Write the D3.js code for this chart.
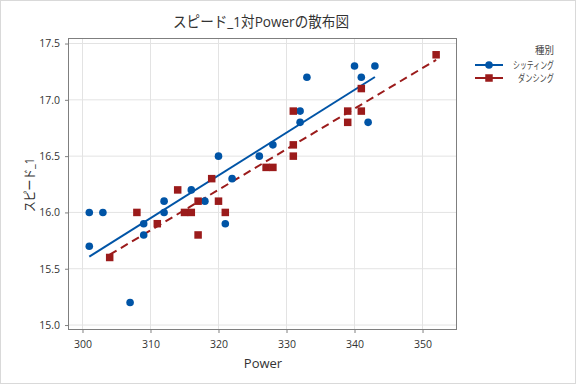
<!DOCTYPE html>
<html><head><meta charset="utf-8">
<script src="https://cdn.jsdelivr.net/npm/d3@7"></script>
<style>
html,body{margin:0;padding:0;background:#fff;}
svg{display:block;}
text{font-family:"Open Sans","Noto Sans CJK JP",sans-serif;}
</style></head>
<body>
<script>
const title = "スピード_1対Powerの散布図";
const xLabel = "Power";
const yLabel = "スピード_1";
const legendTitle = "種別";
const seriesNames = ["シッティング", "ダンシング"];
const xTicks = [300, 310, 320, 330, 340, 350];
const yTicks = [15.0, 15.5, 16.0, 16.5, 17.0, 17.5];

const sitX = [301,301,303,307,309,309,312,312,316,318,320,321,322,326,328,332,332,333,340,341,342,343];
const sitY = [16.0,15.7,16.0,15.2,15.9,15.8,16.1,16.0,16.2,16.1,16.5,15.9,16.3,16.5,16.6,16.9,16.8,17.2,17.3,17.2,16.8,17.3];
const danX = [304,308,311,314,315,316,317,317,319,320,321,327,328,331,331,331,339,339,341,341,352];
const danY = [15.6,16.0,15.9,16.2,16.0,16.0,16.1,15.8,16.3,16.1,16.0,16.4,16.4,16.9,16.6,16.5,16.9,16.8,17.1,16.9,17.4];

const W = 576, H = 384;
const m = {left:68, top:38, right:457, bottom:330};
const blue = "#0054A6", red = "#9B1B1B";

const svg = d3.select("body").append("svg").attr("width", W).attr("height", H);
svg.append("rect").attr("x",0.5).attr("y",0.5).attr("width",W-1).attr("height",H-1)
  .attr("fill","#fff").attr("stroke","#d9d9d9");

const x = d3.scaleLinear().domain([297.87, 355.07]).range([m.left, m.right]);
const y = d3.scaleLinear().domain([14.956, 17.549]).range([m.bottom, m.top]);

// grid
const g = svg.append("g");
g.selectAll(".gx").data(xTicks).join("line")
  .attr("x1", d=>x(d)).attr("x2", d=>x(d)).attr("y1", m.top).attr("y2", m.bottom)
  .attr("stroke","#e3e3e3").attr("stroke-width",1);
g.selectAll(".gy").data(yTicks).join("line")
  .attr("y1", d=>y(d)).attr("y2", d=>y(d)).attr("x1", m.left).attr("x2", m.right)
  .attr("stroke","#e3e3e3").attr("stroke-width",1);

// axes
const xAxis = svg.append("g").attr("transform",`translate(0,${m.bottom})`)
  .call(d3.axisBottom(x).tickValues(xTicks).tickSize(3).tickSizeOuter(0).tickFormat(d3.format("d")));
const yAxis = svg.append("g").attr("transform",`translate(${m.left},0)`)
  .call(d3.axisLeft(y).tickValues(yTicks).tickSize(3).tickSizeOuter(0).tickFormat(d3.format(".1f")));
[xAxis,yAxis].forEach(a=>{
  a.select(".domain").remove();
  a.selectAll(".tick line").attr("stroke","#808080");
  a.selectAll(".tick text").attr("fill","#333").attr("font-size","10.5px")
   .attr("font-family","'Open Sans',sans-serif");
});
xAxis.selectAll(".tick text").attr("dy","1.1em");
yAxis.selectAll(".tick text").attr("dx","-0.2em");

// frame
svg.append("rect").attr("x",m.left+0.5).attr("y",m.top+0.5)
  .attr("width",m.right-m.left-1).attr("height",m.bottom-m.top-1)
  .attr("fill","none").attr("stroke","#7f7f7f").attr("stroke-width",1);

// regression
function fit(xs, ys){
  const n=xs.length, mx=d3.mean(xs), my=d3.mean(ys);
  let sxy=0,sxx=0;
  for(let i=0;i<n;i++){sxy+=(xs[i]-mx)*(ys[i]-my);sxx+=(xs[i]-mx)**2;}
  const b=sxy/sxx, a=my-b*mx;
  const x0=d3.min(xs), x1=d3.max(xs);
  return [[x0,a+b*x0],[x1,a+b*x1]];
}
const line = d3.line().x(d=>x(d[0])).y(d=>y(d[1]));
svg.append("path").attr("d", line(fit(sitX,sitY))).attr("stroke",blue).attr("stroke-width",2).attr("fill","none");
svg.append("path").attr("d", line(fit(danX,danY))).attr("stroke",red).attr("stroke-width",2)
  .attr("stroke-dasharray","8,5").attr("fill","none");

// points
svg.append("g").selectAll("circle").data(sitX.map((v,i)=>[v,sitY[i]])).join("circle")
  .attr("cx",d=>x(d[0])).attr("cy",d=>y(d[1])).attr("r",3.8).attr("fill",blue);
const s=7.5;
svg.append("g").selectAll("rect").data(danX.map((v,i)=>[v,danY[i]])).join("rect")
  .attr("x",d=>x(d[0])-s/2).attr("y",d=>y(d[1])-s/2).attr("width",s).attr("height",s).attr("fill",red);

// titles
svg.append("text").attr("x",261).attr("y",27).attr("text-anchor","middle")
  .attr("font-size","15px").attr("fill","#333")
  .attr("textLength",176).attr("lengthAdjust","spacingAndGlyphs")
  .attr("font-family","'Noto Sans CJK JP',sans-serif").text(title);
svg.append("text").attr("x",263).attr("y",368).attr("text-anchor","middle")
  .attr("font-size","13px").attr("fill","#333").text(xLabel);
svg.append("text").attr("transform","translate(34,185) rotate(-90)").attr("text-anchor","middle")
  .attr("font-size","13px").attr("fill","#333")
  .attr("textLength",54).attr("lengthAdjust","spacingAndGlyphs")
  .attr("font-family","'Noto Sans CJK JP',sans-serif").text(yLabel);

// legend
const lg = svg.append("g");
const lgLen = [41, 36];
lg.append("text").attr("x",554).attr("y",54).attr("text-anchor","end")
  .attr("font-size","10px").attr("fill","#444")
  .attr("textLength",19).attr("lengthAdjust","spacingAndGlyphs")
  .attr("font-family","'Noto Sans CJK JP',sans-serif").text(legendTitle);
const cols=[blue,red];
seriesNames.forEach((nm,i)=>{
  const yy = 65 + i*13;
  lg.append("line").attr("x1",475).attr("x2",503).attr("y1",yy).attr("y2",yy)
    .attr("stroke",cols[i]).attr("stroke-width",2);
  if(i===0) lg.append("circle").attr("cx",489).attr("cy",yy).attr("r",3.8).attr("fill",blue);
  else lg.append("rect").attr("x",489-s/2).attr("y",yy-s/2).attr("width",s).attr("height",s).attr("fill",red);
  lg.append("text").attr("x",554).attr("y",yy+3.5).attr("text-anchor","end")
    .attr("font-size","10px").attr("fill","#444")
    .attr("textLength",lgLen[i]).attr("lengthAdjust","spacingAndGlyphs")
    .attr("font-family","'Noto Sans CJK JP',sans-serif").text(nm);
});
</script>
</body></html>
